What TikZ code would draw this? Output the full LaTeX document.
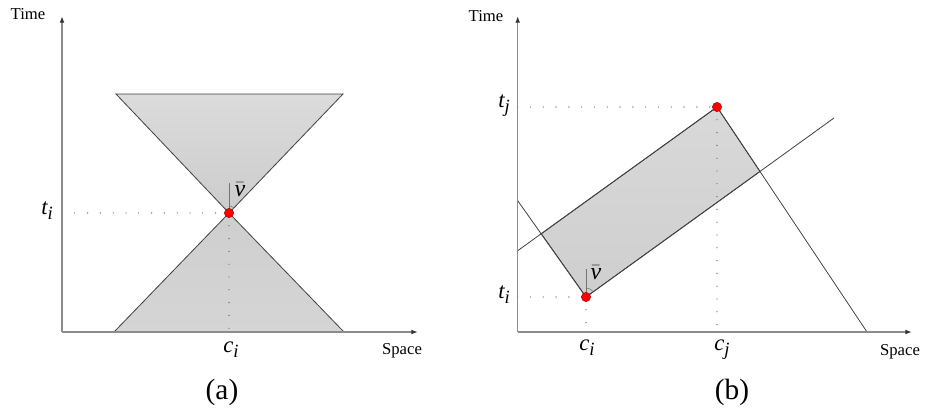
\documentclass[tikz,border=0pt]{standalone}
\usepackage{fontspec}
\setmainfont{Liberation Serif}
\usetikzlibrary{arrows.meta}

\newcommand\evlab[2]{#1\raisebox{-0.5ex}{\fontsize{14}{16}\selectfont #2}}

\begin{document}
\begin{tikzpicture}[
  x=0.75pt,y=0.75pt,
  axis/.style={draw=gray!90,line width=1.1pt,-{Latex[length=5pt,width=3.6pt,color=black!80]}},
  edge/.style={draw=black!75,line width=0.6pt},
  cone/.style={edge,top color=gray!28,bottom color=gray!40},
  proj/.style={draw=black!60,line width=1pt,line cap=round,dash pattern=on 0pt off 9.6pt},
  evt/.style={circle,fill=red,draw=red!60!black,line width=0.3pt,inner sep=0pt,minimum size=7pt},
  axlab/.style={font=\fontsize{12.5}{14}\selectfont},
  lab/.style={font=\fontsize{17}{19}\selectfont\itshape},
  vlab/.style={font=\fontsize{18}{20}\selectfont\itshape,inner sep=1pt},
  sublab/.style={font=\fontsize{22}{24}\selectfont}]

  \useasboundingbox (0,0) rectangle (925,412);

  % ---- (a) light cone ----
  \coordinate (oa) at (62,80);
  \coordinate (ya) at (62,396);
  \coordinate (xa) at (418,80);
  \coordinate (ei) at (229,199);
  \coordinate (tia) at (62,199);
  \coordinate (cia) at (229,80);

  \path[cone] (116,318) -- (343,318) -- (ei) -- cycle;
  \path[cone,top color=gray!38,bottom color=gray!33] (ei) -- (344,80) -- (114,80) -- cycle;
  \draw[proj] (tia) -- (ei);
  \draw[proj] (ei) -- (cia);
  \draw[axis] (oa) -- (ya);
  \draw[axis] (oa) -- (xa);
  \draw[draw=black!55,line width=0.4pt] (ei) -- ++(0,30);
  \draw[draw=black!55,line width=0.4pt] (ei) ++(90:7) arc (90:46:7);
  \node[evt] (pa) at (ei) {};

  \node[axlab] (timea) at (28,398) {Time};
  \node[axlab] (spacea) at (402,61) {Space};
  \node[lab] (tlaba) at (47,201) {\evlab{t}{i}};
  \node[lab] (claba) at (231,62) {\evlab{c}{i}};
  \node[vlab] (vlaba) at (240,222) {$\bar{\textit{v}}$};
  \node[sublab] (capa) at (222,20) {(a)};

  % ---- (b) region between two events ----
  \coordinate (ob) at (517.7,80);
  \coordinate (yb) at (517.7,396);
  \coordinate (xb) at (912,80);
  \coordinate (ci) at (586,115);
  \coordinate (cj) at (717,305);
  \coordinate (la) at (517.7,161.3);
  \coordinate (lb) at (834,294);
  \coordinate (lc) at (517.7,211.3);
  \coordinate (ld) at (867,80);
  \coordinate (tib) at (517.7,115);
  \coordinate (tjb) at (517.7,305);
  \coordinate (cib) at (586,80);
  \coordinate (cjb) at (717,80);

  \path[cone,top color=gray!30,bottom color=gray!38]
    (ci) -- (intersection of la--cj and lc--ci) -- (cj)
    -- (intersection of ci--lb and cj--ld) -- cycle;
  \draw[edge] (la) -- (cj);
  \draw[edge] (ci) -- (lb);
  \draw[edge] (lc) -- (ci);
  \draw[edge] (cj) -- (ld);
  \draw[proj] (tjb) -- (cj);
  \draw[proj] (cj) -- (cjb);
  \draw[proj] (tib) -- (ci);
  \draw[proj] (ci) -- (cib);
  \draw[axis] (ob) -- (yb);
  \draw[axis] (ob) -- (xb);
  \draw[draw=black!55,line width=0.4pt] (ci) -- ++(0,28);
  \draw[draw=black!55,line width=0.4pt] (ci) ++(90:9) arc (90:36:9);
  \node[evt] (pi) at (ci) {};
  \node[evt] (pj) at (cj) {};

  \node[axlab] (timeb) at (486,396) {Time};
  \node[axlab] (spaceb) at (900,60) {Space};
  \node[lab] (tjlab) at (504,306) {\evlab{t}{j}};
  \node[lab] (tilab) at (504,117) {\evlab{t}{i}};
  \node[lab] (cilab) at (587,64) {\evlab{c}{i}};
  \node[lab] (cjlab) at (722,62) {\evlab{c}{j}};
  \node[vlab] (vlabb) at (596,139) {$\bar{\textit{v}}$};
  \node[sublab] (capb) at (732,20) {(b)};
\end{tikzpicture}
\end{document}
